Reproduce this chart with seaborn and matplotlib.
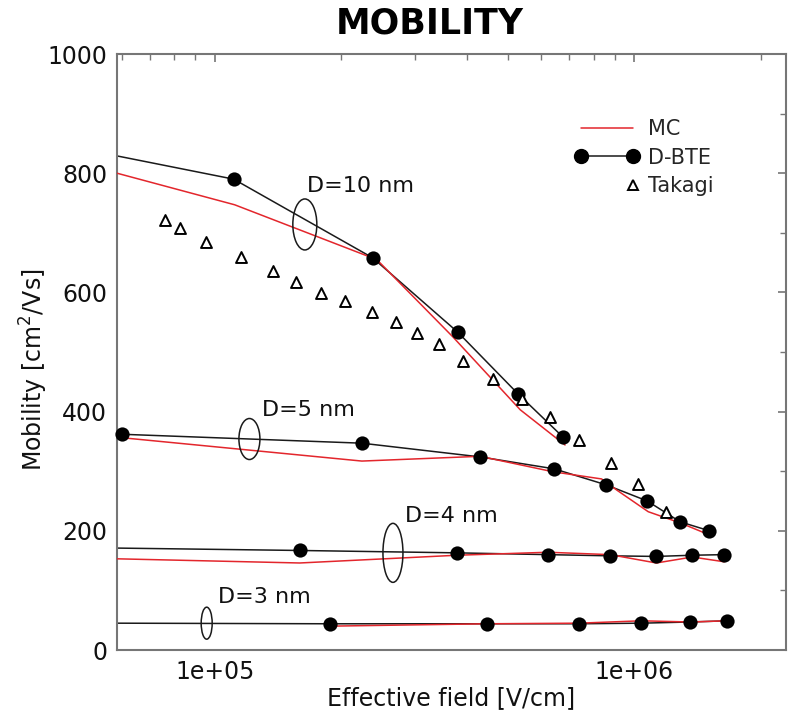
import numpy as np
import pandas as pd
import seaborn as sns
import matplotlib
matplotlib.use("Agg")
import matplotlib.pyplot as plt
from matplotlib.lines import Line2D
from matplotlib.patches import Ellipse
from matplotlib.legend_handler import HandlerLine2D
from matplotlib.transforms import ScaledTranslation
from matplotlib.ticker import FuncFormatter, NullFormatter, LogLocator, MultipleLocator

# ---------------------------------------------------------------- data
X_MIN, X_MAX = 5.85e4, 2.3e6

# D = 10 nm
d10_bte_field = [5.85e4, 1.11e5, 2.38e5, 3.80e5, 5.28e5, 6.77e5]
d10_bte_mob = [829, 790, 658, 533, 430, 357]
d10_bte_first_dot = 1
d10_mc_field = [5.85e4, 1.116e5, 2.435e5, 3.70e5, 5.35e5, 6.84e5]
d10_mc_mob = [800, 747, 655, 525, 403, 344]

# D = 5 nm
d5_bte_field = [6.0e4, 2.243e5, 4.29e5, 6.44e5, 8.58e5, 1.074e6, 1.287e6, 1.51e6]
d5_bte_mob = [362, 347, 324, 304, 277, 250, 215, 200]
d5_bte_first_dot = 0
d5_mc_field = [5.85e4, 2.243e5, 4.29e5, 6.41e5, 8.36e5, 9.1e5, 1.08e6, 1.29e6, 1.50e6]
d5_mc_mob = [357, 317, 325, 299, 287, 268, 232, 213, 194]

# D = 4 nm
d4_bte_field = [5.85e4, 1.595e5, 3.78e5, 6.23e5, 8.76e5, 1.129e6, 1.375e6, 1.64e6]
d4_bte_mob = [171, 167, 163, 160, 158, 157, 159, 160]
d4_bte_first_dot = 1
d4_mc_field = [5.85e4, 1.595e5, 3.78e5, 6.23e5, 8.76e5, 1.129e6, 1.375e6, 1.64e6]
d4_mc_mob = [153, 146, 159, 164, 160, 146, 156, 148]

# D = 3 nm
d3_bte_field = [5.85e4, 1.88e5, 4.46e5, 7.39e5, 1.039e6, 1.36e6, 1.667e6]
d3_bte_mob = [45, 44, 44, 44, 45, 47, 49]
d3_bte_first_dot = 1
d3_mc_field = [1.88e5, 4.46e5, 7.39e5, 1.039e6, 1.36e6, 1.667e6]
d3_mc_mob = [40, 44, 45, 49, 47, 49]

# Takagi universal mobility
takagi_field = [7.60e4, 8.25e4, 9.52e4, 1.154e5, 1.375e5, 1.561e5, 1.79e5, 2.043e5,
                2.37e5, 2.704e5, 3.035e5, 3.424e5, 3.907e5, 4.61e5, 5.40e5, 6.30e5,
                7.39e5, 8.81e5, 1.022e6, 1.192e6]
takagi_mob = [721, 708, 685, 659, 636, 617, 599, 586, 567, 550, 532, 513, 485, 455,
              421, 391, 352, 314, 278, 231]

# thickness labels and the ellipses grouping each pair of curves
label_text = ["D=10 nm", "D=5 nm", "D=4 nm", "D=3 nm"]
label_x = [1.66e5, 1.295e5, 2.84e5, 1.017e5]
label_y = [778, 403, 225, 89]
ring_x = [1.64e5, 1.21e5, 2.66e5, 9.57e4]
ring_y = [714, 354, 163, 45]
ring_w = [24, 21, 20, 11]
ring_h = [51, 41, 59, 32]

y_ticks = [0, 200, 400, 600, 800, 1000]

# ---------------------------------------------------------------- style
RED = "#e3262c"
BLACK = "#1a1a1a"
SPINE = "#767676"

sns.set_style("white")
plt.rcParams["font.family"] = ["DejaVu Sans"]

fig = plt.figure(figsize=(7.88, 7.19), dpi=100)
ax = fig.add_axes([117 / 788, 69 / 719, 669 / 788, 596 / 719])
ax.set_xscale("log")

bte_sets = [
    (d10_bte_field, d10_bte_mob, d10_bte_first_dot),
    (d5_bte_field, d5_bte_mob, d5_bte_first_dot),
    (d4_bte_field, d4_bte_mob, d4_bte_first_dot),
    (d3_bte_field, d3_bte_mob, d3_bte_first_dot),
]
mc_sets = [
    (d10_mc_field, d10_mc_mob),
    (d5_mc_field, d5_mc_mob),
    (d4_mc_field, d4_mc_mob),
    (d3_mc_field, d3_mc_mob),
]

for fx, my, first in bte_sets:
    sns.lineplot(x=fx, y=my, ax=ax, color=BLACK, lw=1.1, sort=False,
                 estimator=None, zorder=2)
    sns.scatterplot(x=fx[first:], y=my[first:], ax=ax, color="black",
                    marker="o", s=105, linewidth=0, zorder=4, clip_on=False)

for fx, my in mc_sets:
    sns.lineplot(x=fx, y=my, ax=ax, color=RED, lw=1.1, sort=False,
                 estimator=None, zorder=3)

sns.scatterplot(x=takagi_field, y=takagi_mob, ax=ax, marker="^", s=62,
                color="white", edgecolor="black", linewidth=1.4, zorder=5)

# thickness labels with ellipses
for txt, tx, ty, ex, ey, ew, eh in zip(label_text, label_x, label_y,
                                       ring_x, ring_y, ring_w, ring_h):
    ax.text(tx, ty, txt, fontsize=16, ha="left", va="center", color="#111111")
    tr = fig.dpi_scale_trans + ScaledTranslation(ex, ey, ax.transData)
    ax.add_patch(Ellipse((0, 0), ew / 100, eh / 100, transform=tr,
                         fill=False, edgecolor=BLACK, lw=1.1, zorder=6))

# axes
ax.set_xlim(X_MIN, X_MAX)
ax.set_ylim(0, 1000)
ax.set_yticks(y_ticks)
ax.yaxis.set_minor_locator(MultipleLocator(100))
ax.xaxis.set_major_locator(LogLocator(base=10, numticks=10))
ax.xaxis.set_minor_locator(LogLocator(base=10, subs=np.arange(2, 10), numticks=20))
ax.xaxis.set_major_formatter(FuncFormatter(lambda v, p: f"{v:.0e}"))
ax.xaxis.set_minor_formatter(NullFormatter())

for side in ["left", "right", "top", "bottom"]:
    ax.spines[side].set_visible(True)
    ax.spines[side].set_color(SPINE)
    ax.spines[side].set_linewidth(1.5)

ax.tick_params(which="both", direction="in", top=True, right=True,
               color=SPINE, labelsize=17, labelcolor="#111111")
ax.tick_params(which="major", length=6, width=1.2)
ax.tick_params(which="minor", length=4, width=1.0)
ax.tick_params(axis="y", which="major", pad=7)
ax.tick_params(axis="x", which="major", pad=7)

ax.set_xlabel("Effective field [V/cm]", fontsize=17, color="#111111")
ax.set_ylabel("Mobility [cm$^2$/Vs]", fontsize=17, color="#111111")
ax.xaxis.set_label_coords(0.5, -0.06)
ax.yaxis.set_label_coords(-0.10, 0.47)


# legend: D-BTE shows dots at both ends, Takagi only at the right end
class EndMarkerHandler(HandlerLine2D):
    def create_artists(self, legend, orig_handle, xdescent, ydescent,
                       width, height, fontsize, trans):
        arts = super().create_artists(legend, orig_handle, xdescent, ydescent,
                                      width, height, fontsize, trans)
        for a in arts:
            if isinstance(a, Line2D):
                a.set_markevery([1])
        return arts


h_mc = Line2D([], [], color=RED, lw=1.1)
h_bte = Line2D([], [], color=BLACK, lw=1.1, marker="o", ms=10,
               markerfacecolor="black", markeredgecolor="black")
h_tk = Line2D([], [], ls="none", marker="^", ms=7, markerfacecolor="white",
              markeredgecolor="black", markeredgewidth=1.4)
ax.legend([h_mc, h_bte, h_tk], ["MC", "D-BTE", "Takagi"],
          handler_map={h_mc: HandlerLine2D(marker_pad=0, numpoints=2),
                       h_bte: HandlerLine2D(marker_pad=0, numpoints=2),
                       h_tk: EndMarkerHandler(marker_pad=0, numpoints=2)},
          loc="upper left", bbox_to_anchor=((581 - 117) / 669, (650 - 119) / 596),
          frameon=False, fontsize=15, handlelength=2.5, handletextpad=0.7,
          borderpad=0, borderaxespad=0, labelspacing=0.42)

fig.text(430 / 788, 1 - 23 / 719, "MOBILITY", fontsize=25, fontweight="bold",
         ha="center", va="center", color="black")

fig.savefig("out.png", dpi=100)
